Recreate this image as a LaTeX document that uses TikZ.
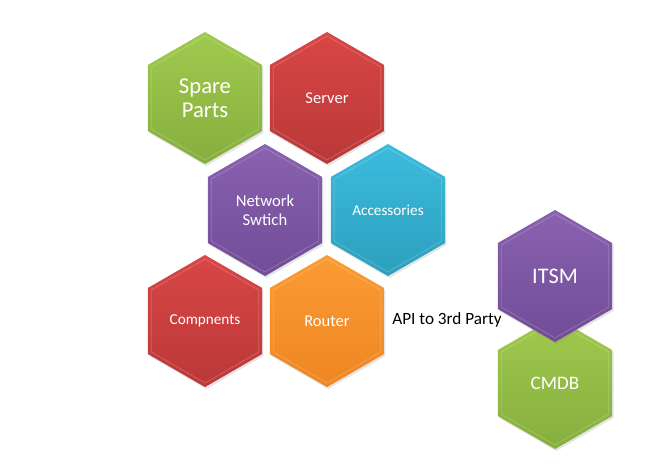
\documentclass[tikz,border=0pt]{standalone}
\usepackage{fontspec}
\setmainfont{Carlito}
\usetikzlibrary{shapes.geometric,shadows}
\definecolor{gtop}{HTML}{A0CA4E}\definecolor{gbot}{HTML}{86AE3E}
\definecolor{rtop}{HTML}{D94646}\definecolor{rbot}{HTML}{BA3838}
\definecolor{ptop}{HTML}{8A62B0}\definecolor{pbot}{HTML}{714C97}
\definecolor{btop}{HTML}{3CBCDD}\definecolor{bbot}{HTML}{2C9FBD}
\definecolor{otop}{HTML}{FB9B34}\definecolor{obot}{HTML}{EE8622}
\tikzset{
  hexa/.style={regular polygon, regular polygon sides=6, shape border rotate=30,
    minimum size=99pt, inner sep=0pt, draw=none, text=white, align=center,
    drop shadow={opacity=0.2, shadow xshift=1pt, shadow yshift=-1.5pt}},
  hexbevel/.style={regular polygon, regular polygon sides=6, shape border rotate=30,
    minimum size=93pt, inner sep=0pt, draw=white, draw opacity=0.2, line width=0.6pt},
  plain/.style={text=black, inner sep=0pt}
}
\newcommand\hexcell[7]{%
  \node[hexa, top color=#4, bottom color=#5, font=\fontsize{#6pt}{\dimexpr #6pt*112/100\relax}\selectfont] (#1) at (#2,#3) {#7};
  \node[hexbevel] (#1b) at (#1) {};
}
\begin{document}
\begin{tikzpicture}[x=0.75pt,y=-0.75pt]
\path[use as bounding box, fill=white] (0,0) rectangle (663,475);
\hexcell{spare}{205}{98}{gtop}{gbot}{17}{Spare\\[-1pt]Parts}
\hexcell{server}{327}{98}{rtop}{rbot}{12.4}{Server}
\hexcell{network}{265}{210}{ptop}{pbot}{12.5}{Network\\Swtich}
\hexcell{acc}{388}{210}{btop}{bbot}{11.4}{Accessories}
\hexcell{comp}{205}{321}{rtop}{rbot}{11.4}{Compnents}
\hexcell{router}{327}{321}{otop}{obot}{12.4}{Router}
\hexcell{cmdb}{555}{383}{gtop}{gbot}{14.3}{CMDB}
\hexcell{itsm}{555}{276}{ptop}{pbot}{16.7}{ITSM}
\node[plain, font=\fontsize{12.9pt}{14pt}\selectfont] (api) at (447,320) {API to 3rd Party};
\end{tikzpicture}
\end{document}
